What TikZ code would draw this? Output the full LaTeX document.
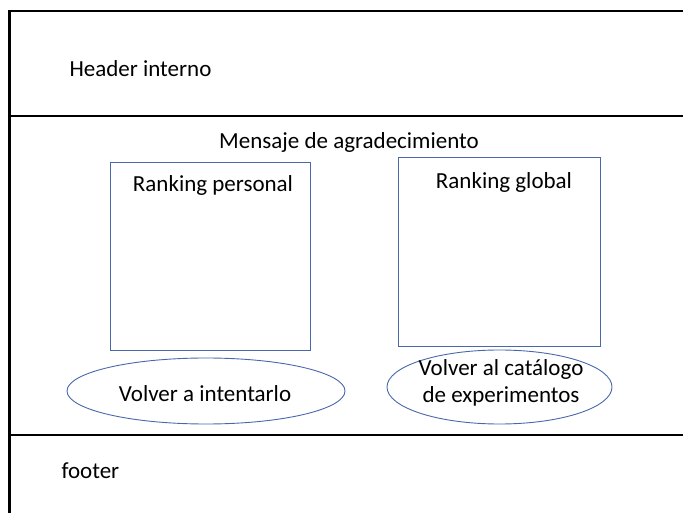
\documentclass[tikz,border=0pt]{standalone}
\usepackage{fontspec}
\setmainfont{Carlito}
\usetikzlibrary{shapes.geometric,positioning}
\definecolor{boxblue}{RGB}{72,104,170}

\begin{document}
\begin{tikzpicture}[
    x=1pt,y=-1pt,
    font=\fontsize{23}{27}\selectfont,
    frame/.style={draw=black,line width=2.6pt},
    panel/.style={rectangle,draw=boxblue,line width=0.9pt},
    btn/.style={ellipse,draw=boxblue,line width=0.9pt,inner sep=0pt,
        align=center},
    ]
    \useasboundingbox (0,0) rectangle (683,513);

    %frame
    \coordinate (tl) at (9.5,11);
    \coordinate (tr) at (684,11);
    \coordinate (bl) at (9.5,514);
    \coordinate (hl) at (9.5,116);
    \coordinate (hr) at (684,116);
    \coordinate (fl) at (9.5,435);
    \coordinate (fr) at (684,435);
    \draw[frame] (bl) -- (tl) -- (tr);
    \draw[frame] (hl) -- (hr);
    \draw[frame] (fl) -- (fr);

    %header
    \node[anchor=west] (header) at (66,69) {Header interno};

    %body
    \node (msg) at (349,142) {Mensaje de agradecimiento};
    \node[panel,minimum width=200,minimum height=188] (personal) at (210,256) {};
    \node[panel,minimum width=202,minimum height=189] (global) at (499,251.5) {};
    \node (personaltxt) at (213,185) {Ranking personal};
    \node (globaltxt) at (504,182) {Ranking global};
    \node[btn,minimum width=278,minimum height=66] (retry) at (206,391) {};
    \node (retrytxt) at (205,394) {Volver a intentarlo};
    \node[btn,minimum width=225,minimum height=74] (catalog) at (499.5,387) {};
    \node[align=center] (catalogtxt) at (501,383) {Volver al catálogo\\de experimentos};

    %footer
    \node[anchor=west] (footer) at (58,471) {footer};

\end{tikzpicture}
\end{document}
